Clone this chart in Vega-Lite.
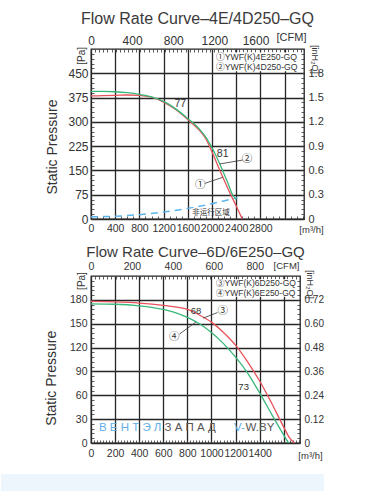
{
  "$schema": "https://vega.github.io/schema/vega-lite/v6.json",
  "background": "white",
  "padding": {"left": 0, "top": 10, "right": 5, "bottom": 0},
  "spacing": 9,
  "config": {
    "font": "Liberation Sans",
    "view": {"stroke": "#222222", "strokeWidth": 1.3},
    "axis": {
      "domain": false,
      "labelFont": "Liberation Sans",
      "labelColor": "#333333",
      "titleFont": "Liberation Sans",
      "titleColor": "#333333",
      "titleFontWeight": "normal",
      "tickColor": "#333333",
      "tickWidth": 0.8,
      "tickSize": -3,
      "gridColor": "#262626",
      "gridWidth": 1.3,
      "labelOverlap": false,
      "labelFlush": false,
      "labelBound": false,
      "format": "d"
    }
  },
  "datasets": {
    "c1": [
      {"q": 0, "p": 380, "s": "1"}, {"q": 200, "p": 381, "s": "1"}, {"q": 400, "p": 382, "s": "1"}, {"q": 600, "p": 383, "s": "1"},
      {"q": 800, "p": 382, "s": "1"}, {"q": 1000, "p": 376, "s": "1"}, {"q": 1200, "p": 361, "s": "1"}, {"q": 1400, "p": 338, "s": "1"},
      {"q": 1600, "p": 307, "s": "1"}, {"q": 1800, "p": 272, "s": "1"}, {"q": 1900, "p": 247, "s": "1"}, {"q": 1950, "p": 228, "s": "1"},
      {"q": 2040, "p": 190, "s": "1"}, {"q": 2130, "p": 150, "s": "1"}, {"q": 2220, "p": 112, "s": "1"}, {"q": 2310, "p": 75, "s": "1"},
      {"q": 2400, "p": 40, "s": "1"}, {"q": 2470, "p": 12, "s": "1"}, {"q": 2500, "p": 0, "s": "1"},
      {"q": 0, "p": 394, "s": "2"}, {"q": 200, "p": 394, "s": "2"}, {"q": 400, "p": 393, "s": "2"}, {"q": 600, "p": 390, "s": "2"},
      {"q": 800, "p": 385, "s": "2"}, {"q": 1000, "p": 377, "s": "2"}, {"q": 1200, "p": 363, "s": "2"}, {"q": 1400, "p": 340, "s": "2"},
      {"q": 1600, "p": 310, "s": "2"}, {"q": 1800, "p": 276, "s": "2"}, {"q": 1900, "p": 252, "s": "2"}, {"q": 1975, "p": 228, "s": "2"},
      {"q": 2080, "p": 190, "s": "2"}, {"q": 2175, "p": 150, "s": "2"}, {"q": 2260, "p": 112, "s": "2"}, {"q": 2340, "p": 75, "s": "2"},
      {"q": 2400, "p": 60, "s": "2"}
    ],
    "d1": [
      {"q": 0, "p": 7}, {"q": 400, "p": 8.6}, {"q": 800, "p": 13.4}, {"q": 1200, "p": 21.5},
      {"q": 1600, "p": 32.8}, {"q": 2000, "p": 47.3}, {"q": 2420, "p": 66}
    ],
    "lead1": [
      {"q": 1880, "p": 110, "g": "a"}, {"q": 2180, "p": 129, "g": "a"},
      {"q": 2505, "p": 182, "g": "b"}, {"q": 2128, "p": 170, "g": "b"}
    ],
    "num1": [{"q": 1476, "p": 354, "t": "77"}, {"q": 2176, "p": 200, "t": "81"}],
    "circ1": [{"q": 1807, "p": 106, "t": "①"}, {"q": 2579, "p": 185, "t": "②"}],
    "zone1": [{"q": 1983, "p": 20, "t": "非运行区域"}],
    "leg1": [{"q": 2050, "q2": 3440, "p": 456, "p2": 514}],
    "legt1": [{"q": 2066, "p": 500, "t": "①YWF(K)4E250-GQ"}, {"q": 2066, "p": 470, "t": "②YWF(K)4D250-GQ"}],
    "pa1": [{"q": -154, "p": 504, "t": "[Pa]"}],
    "c2": [
      {"q": 0, "p": 178, "s": "3"}, {"q": 200, "p": 177.5, "s": "3"}, {"q": 400, "p": 176, "s": "3"}, {"q": 600, "p": 173, "s": "3"},
      {"q": 800, "p": 168, "s": "3"}, {"q": 900, "p": 161, "s": "3"}, {"q": 1000, "p": 152, "s": "3"}, {"q": 1100, "p": 139, "s": "3"},
      {"q": 1200, "p": 123, "s": "3"}, {"q": 1300, "p": 102, "s": "3"}, {"q": 1400, "p": 78, "s": "3"}, {"q": 1500, "p": 50, "s": "3"},
      {"q": 1600, "p": 20, "s": "3"}, {"q": 1650, "p": 6, "s": "3"}, {"q": 1690, "p": 0, "s": "3"},
      {"q": 0, "p": 175, "s": "4"}, {"q": 200, "p": 174.5, "s": "4"}, {"q": 400, "p": 172.5, "s": "4"}, {"q": 600, "p": 168, "s": "4"},
      {"q": 700, "p": 164, "s": "4"}, {"q": 800, "p": 158, "s": "4"}, {"q": 900, "p": 150, "s": "4"}, {"q": 1000, "p": 139, "s": "4"},
      {"q": 1100, "p": 125, "s": "4"}, {"q": 1200, "p": 108, "s": "4"}, {"q": 1300, "p": 88, "s": "4"}, {"q": 1400, "p": 63, "s": "4"},
      {"q": 1500, "p": 36, "s": "4"}, {"q": 1600, "p": 10, "s": "4"}, {"q": 1640, "p": 0, "s": "4"}
    ],
    "lead2": [
      {"q": 1050, "p": 164, "g": "a"}, {"q": 930, "p": 157, "g": "a"},
      {"q": 735, "p": 137, "g": "b"}, {"q": 870, "p": 152, "g": "b"}
    ],
    "num2": [{"q": 871, "p": 166, "t": "68"}, {"q": 1267, "p": 71, "t": "73"}],
    "circ2": [{"q": 1093, "p": 166, "t": "③"}, {"q": 691, "p": 133, "t": "④"}],
    "leg2": [{"q": 1021, "q2": 1700, "p": 184, "p2": 206}],
    "legt2": [{"q": 1038, "p": 201.2, "t": "③YWF(K)6D250-GQ"}, {"q": 1038, "p": 188.6, "t": "④YWF(K)6E250-GQ"}],
    "pa2": [{"q": -75, "p": 203.7, "t": "[Pa]"}],
    "wmb": [{"q": 66, "p": 19, "t": "В Е Н Т Э Л"}, {"q": 1187, "p": 19, "t": "V-"}],
    "wmg": [{"q": 611, "p": 19, "t": "З А П А Д"}, {"q": 1283, "p": 19, "t": "W.BY"}],
    "band": [{"q": -747, "q2": 1934, "p": -39, "p2": -62}]
  },
  "vconcat": [
    {
      "title": {"text": "Flow Rate Curve–4E/4D250–GQ", "fontSize": 16, "font": "Liberation Sans", "fontWeight": "normal", "color": "#3a3a3a", "offset": 4},
      "width": 213,
      "height": 170,
      "layer": [
        {
          "encoding": {
            "x": {
              "field": "q", "type": "quantitative",
              "scale": {"domain": [0, 3520], "nice": false, "zero": false},
              "axis": {
                "orient": "bottom",
                "values": [0,100,200,300,400,500,600,700,800,900,1000,1100,1200,1300,1400,1500,1600,1700,1800,1900,2000,2100,2200,2300,2400,2500,2600,2700,2800,2900,3000,3100,3200,3300,3400,3500],
                "labelExpr": "datum.value % 400 == 0 && datum.value <= 2800 ? datum.label : ''",
                "gridOpacity": {"condition": {"test": "datum.value % 400 == 0", "value": 1}, "value": 0},
                "labelFontSize": 10.5, "labelPadding": 7,
                "title": "[m³/h]", "titleFontSize": 9.5, "titleX": 220, "titleY": 10, "titleAlign": "center", "titleBaseline": "middle"
              }
            },
            "y": {
              "field": "p", "type": "quantitative",
              "scale": {"domain": [0, 525], "nice": false, "zero": false},
              "axis": {
                "orient": "left",
                "values": [0,15,30,45,60,75,90,105,120,135,150,165,180,195,210,225,240,255,270,285,300,315,330,345,360,375,390,405,420,435,450,465,480,495,510],
                "labelExpr": "datum.value % 75 == 0 && datum.value <= 450 ? datum.label : ''",
                "gridOpacity": {"condition": {"test": "datum.value % 75 == 0", "value": 1}, "value": 0},
                "labelFontSize": 12, "labelPadding": 6,
                "title": "Static Pressure", "titleFontSize": 14, "titleX": -39, "titleY": 97.5, "titleAngle": 270, "titleAlign": "center", "titleBaseline": "middle"
              }
            }
          },
          "layer": [
            {"data": {"name": "leg1"}, "mark": {"type": "rect", "fill": "white"}, "encoding": {"x2": {"field": "q2"}, "y2": {"field": "p2"}}},
            {"data": {"name": "d1"}, "mark": {"type": "line", "color": "#5bb4ea", "strokeWidth": 1.5, "strokeDash": [7, 5], "interpolate": "monotone"}, "encoding": {}},
            {"data": {"name": "c1"}, "mark": {"type": "line", "strokeWidth": 1.3, "interpolate": "monotone"},
              "encoding": {"color": {"field": "s", "type": "nominal", "scale": {"domain": ["1", "2"], "range": ["#e8525a", "#3ab87c"]}, "legend": null}}},
            {"data": {"name": "lead1"}, "mark": {"type": "line", "color": "#333333", "strokeWidth": 0.8}, "encoding": {"detail": {"field": "g"}}},
            {"data": {"name": "num1"}, "mark": {"type": "text", "font": "Liberation Sans", "fontSize": 10.5, "color": "#333333", "align": "center", "baseline": "middle"}, "encoding": {"text": {"field": "t"}}},
            {"data": {"name": "circ1"}, "mark": {"type": "text", "font": "Noto Sans CJK SC", "fontSize": 10.5, "color": "#333333", "align": "center", "baseline": "middle"}, "encoding": {"text": {"field": "t"}}},
            {"data": {"name": "zone1"}, "mark": {"type": "text", "font": "Noto Sans CJK SC", "fontSize": 7.5, "color": "#333333", "align": "center", "baseline": "middle"}, "encoding": {"text": {"field": "t"}}},
            {"data": {"name": "legt1"}, "mark": {"type": "text", "font": "Liberation Sans, Noto Sans CJK SC", "fontSize": 8.7, "color": "#333333", "align": "left", "baseline": "middle"}, "encoding": {"text": {"field": "t"}}},
            {"data": {"name": "pa1"}, "mark": {"type": "text", "font": "Liberation Sans", "fontSize": 10, "color": "#333333", "align": "center", "baseline": "middle", "angle": 270}, "encoding": {"text": {"field": "t"}}}
          ]
        },
        {
          "data": {"values": [{"c": 0, "w": 0}]},
          "mark": {"type": "point", "opacity": 0},
          "encoding": {
            "x": {
              "field": "c", "type": "quantitative",
              "scale": {"domain": [0, 2071.81], "nice": false, "zero": false},
              "axis": {
                "orient": "top",
                "values": [0,40,80,120,160,200,240,280,320,360,400,440,480,520,560,600,640,680,720,760,800,840,880,920,960,1000,1040,1080,1120,1160,1200,1240,1280,1320,1360,1400,1440,1480,1520,1560,1600,1640,1680,1720,1760,1800,1840,1880,1920,1960,2000,2040],
                "labelExpr": "datum.value % 400 == 0 && datum.value <= 1600 ? datum.label : ''",
                "grid": false,
                "labelFontSize": 12, "labelPadding": 5,
                "title": "[CFM]", "titleFontSize": 11, "titleX": 200, "titleY": -12, "titleAlign": "center", "titleBaseline": "middle"
              }
            },
            "y": {
              "field": "w", "type": "quantitative",
              "scale": {"domain": [0, 2.1], "nice": false, "zero": false},
              "axis": {
                "orient": "right",
                "values": [0,0.06,0.12,0.18,0.24,0.3,0.36,0.42,0.48,0.54,0.6,0.66,0.72,0.78,0.84,0.9,0.96,1.02,1.08,1.14,1.2,1.26,1.32,1.38,1.44,1.5,1.56,1.62,1.68,1.74,1.8,1.86,1.92,1.98,2.04],
                "labelExpr": "abs(datum.value / 0.3 - round(datum.value / 0.3)) < 0.01 && datum.value < 1.85 ? (datum.value == 0 ? '0' : format(datum.value, '.1f')) : ''",
                "grid": false,
                "labelFontSize": 11, "labelPadding": 7,
                "title": "[inH₂O]", "titleFontSize": 9, "titleX": 10, "titleY": 10, "titleAngle": 90, "titleAlign": "center", "titleBaseline": "middle"
              }
            }
          }
        }
      ],
      "resolve": {"scale": {"x": "independent", "y": "independent"}}
    },
    {
      "title": {"text": "Flow Rate Curve–6D/6E250–GQ", "fontSize": 15, "font": "Liberation Sans", "fontWeight": "normal", "color": "#3a3a3a", "offset": 0},
      "width": 209,
      "height": 167,
      "layer": [
        {
          "encoding": {
            "x": {
              "field": "q", "type": "quantitative",
              "scale": {"domain": [0, 1735], "nice": false, "zero": false},
              "axis": {
                "orient": "bottom",
                "values": [0,25,50,75,100,125,150,175,200,225,250,275,300,325,350,375,400,425,450,475,500,525,550,575,600,625,650,675,700,725,750,775,800,825,850,875,900,925,950,975,1000,1025,1050,1075,1100,1125,1150,1175,1200,1225,1250,1275,1300,1325,1350,1375,1400,1425,1450,1475,1500,1525,1550,1575,1600,1625,1650,1675,1700,1725],
                "labelExpr": "datum.value % 200 == 0 && datum.value <= 1400 ? datum.label : ''",
                "gridOpacity": {"condition": {"test": "datum.value % 200 == 0", "value": 1}, "value": 0},
                "labelFontSize": 10.5, "labelPadding": 8,
                "title": "[m³/h]", "titleFontSize": 9.5, "titleX": 219, "titleY": 12, "titleAlign": "center", "titleBaseline": "middle"
              }
            },
            "y": {
              "field": "p", "type": "quantitative",
              "scale": {"domain": [0, 210], "nice": false, "zero": false},
              "axis": {
                "orient": "left",
                "values": [0,6,12,18,24,30,36,42,48,54,60,66,72,78,84,90,96,102,108,114,120,126,132,138,144,150,156,162,168,174,180,186,192,198,204],
                "labelExpr": "datum.value % 30 == 0 && datum.value <= 180 ? datum.label : ''",
                "gridOpacity": {"condition": {"test": "datum.value % 30 == 0", "value": 1}, "value": 0},
                "labelFontSize": 10.5, "labelPadding": 7,
                "title": "Static Pressure", "titleFontSize": 14, "titleX": -39.5, "titleY": 101.7, "titleAngle": 270, "titleAlign": "center", "titleBaseline": "middle"
              }
            }
          },
          "layer": [
            {"data": {"name": "band"}, "mark": {"type": "rect", "fill": "#eef6fd"}, "encoding": {"x2": {"field": "q2"}, "y2": {"field": "p2"}}},
            {"data": {"name": "leg2"}, "mark": {"type": "rect", "fill": "white"}, "encoding": {"x2": {"field": "q2"}, "y2": {"field": "p2"}}},
            {"data": {"name": "wmb"}, "mark": {"type": "text", "font": "Liberation Sans", "fontSize": 11.5, "color": "#63b0e8", "align": "left", "baseline": "middle"}, "encoding": {"text": {"field": "t"}}},
            {"data": {"name": "wmg"}, "mark": {"type": "text", "font": "Liberation Sans", "fontSize": 11.5, "color": "#555555", "align": "left", "baseline": "middle"}, "encoding": {"text": {"field": "t"}}},
            {"data": {"name": "c2"}, "mark": {"type": "line", "strokeWidth": 1.3, "interpolate": "monotone"},
              "encoding": {"color": {"field": "s", "type": "nominal", "scale": {"domain": ["3", "4"], "range": ["#e8525a", "#3ab87c"]}, "legend": null}}},
            {"data": {"name": "lead2"}, "mark": {"type": "line", "color": "#333333", "strokeWidth": 0.8}, "encoding": {"detail": {"field": "g"}}},
            {"data": {"name": "num2"}, "mark": {"type": "text", "font": "Liberation Sans", "fontSize": 9.5, "color": "#333333", "align": "center", "baseline": "middle"}, "encoding": {"text": {"field": "t"}}},
            {"data": {"name": "circ2"}, "mark": {"type": "text", "font": "Noto Sans CJK SC", "fontSize": 10.5, "color": "#333333", "align": "center", "baseline": "middle"}, "encoding": {"text": {"field": "t"}}},
            {"data": {"name": "legt2"}, "mark": {"type": "text", "font": "Liberation Sans, Noto Sans CJK SC", "fontSize": 8.5, "color": "#333333", "align": "left", "baseline": "middle"}, "encoding": {"text": {"field": "t"}}},
            {"data": {"name": "pa2"}, "mark": {"type": "text", "font": "Liberation Sans", "fontSize": 10, "color": "#333333", "align": "center", "baseline": "middle", "angle": 270}, "encoding": {"text": {"field": "t"}}}
          ]
        },
        {
          "data": {"values": [{"c": 0, "w": 0}]},
          "mark": {"type": "point", "opacity": 0},
          "encoding": {
            "x": {
              "field": "c", "type": "quantitative",
              "scale": {"domain": [0, 1021.19], "nice": false, "zero": false},
              "axis": {
                "orient": "top",
                "values": [0,20,40,60,80,100,120,140,160,180,200,220,240,260,280,300,320,340,360,380,400,420,440,460,480,500,520,540,560,580,600,620,640,660,680,700,720,740,760,780,800,820,840,860,880,900,920,940,960,980,1000,1020],
                "labelExpr": "datum.value % 200 == 0 && datum.value <= 800 ? datum.label : ''",
                "grid": false,
                "labelFontSize": 10.5, "labelPadding": 8,
                "title": "[CFM]", "titleFontSize": 9.5, "titleX": 195, "titleY": -11, "titleAlign": "center", "titleBaseline": "middle"
              }
            },
            "y": {
              "field": "w", "type": "quantitative",
              "scale": {"domain": [0, 0.84], "nice": false, "zero": false},
              "axis": {
                "orient": "right",
                "values": [0,0.024,0.048,0.072,0.096,0.12,0.144,0.168,0.192,0.216,0.24,0.264,0.288,0.312,0.336,0.36,0.384,0.408,0.432,0.456,0.48,0.504,0.528,0.552,0.576,0.6,0.624,0.648,0.672,0.696,0.72,0.744,0.768,0.792,0.816],
                "labelExpr": "abs(datum.value / 0.12 - round(datum.value / 0.12)) < 0.01 && datum.value < 0.75 ? (datum.value == 0 ? '0' : format(datum.value, '.2f')) : ''",
                "grid": false,
                "labelFontSize": 10, "labelPadding": 7,
                "title": "[inH₂O]", "titleFontSize": 9, "titleX": 9, "titleY": 8, "titleAngle": 90, "titleAlign": "center", "titleBaseline": "middle"
              }
            }
          }
        }
      ],
      "resolve": {"scale": {"x": "independent", "y": "independent"}}
    }
  ]
}
